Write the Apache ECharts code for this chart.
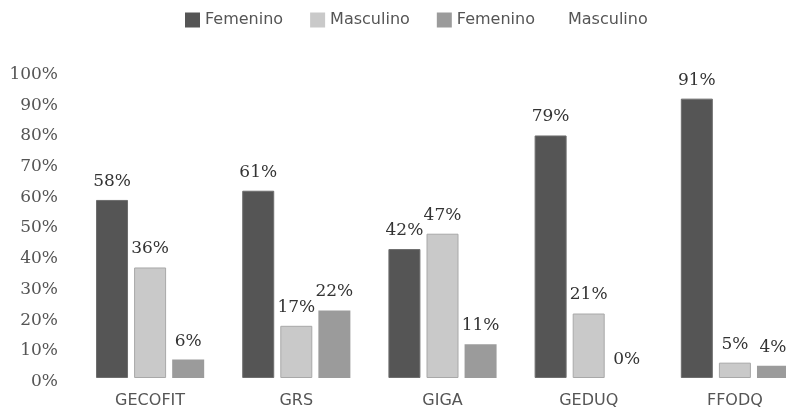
<!DOCTYPE html>
<html><head><meta charset="utf-8">
<script src="https://cdn.jsdelivr.net/npm/echarts@6/dist/echarts.min.js"></script>
<style>html,body{margin:0;padding:0;background:#fff}#c{width:786px;height:412px}</style>
</head><body><div id="c"></div>
<script>
var categories = ['GECOFIT', 'GRS', 'GIGA', 'GEDUQ', 'FFODQ'];
var femenino1 = [58, 61, 42, 79, 91];
var masculino1 = [36, 17, 47, 21, 5];
var femenino2 = [6, 22, 11, 0, 4];
var masculino2 = [];
var yTicks = [0, 10, 20, 30, 40, 50, 60, 70, 80, 90, 100];

var chart = echarts.init(document.getElementById('c'));
var lbl = {show: true, position: 'top', distance: 10, formatter: '{c}%', fontFamily: 'DejaVu Serif', fontSize: 17, color: '#333'};
function bar(name, data, color, border, bw) {
  return {type: 'bar', name: name, data: data, barWidth: 32, barGap: '19%',
    itemStyle: {color: color, borderColor: border, borderWidth: bw}, label: lbl};
}
var legendText = {fontFamily: 'DejaVu Sans', fontSize: 16, color: '#555'};
chart.setOption({
  animation: false,
  legend: [
    {top: 7, left: 180, itemWidth: 15, itemHeight: 15, itemGap: 27, icon: 'rect',
      itemStyle: {borderWidth: 0}, textStyle: legendText,
      formatter: function (n) { return n.trim(); },
      data: ['Femenino', 'Masculino', 'Femenino ']},
    {top: 7, left: 558, itemWidth: 0, itemHeight: 15, icon: 'rect',
      itemStyle: {borderWidth: 0}, textStyle: legendText,
      formatter: function (n) { return n.trim(); },
      data: ['Masculino ']}
  ],
  grid: {left: 77, right: -22, top: 71, bottom: 34, outerBoundsMode: 'none'},
  xAxis: {type: 'category', data: categories, axisLine: {show: false}, axisTick: {show: false},
    axisLabel: {margin: 15, fontFamily: 'DejaVu Sans', fontSize: 16, color: '#555'}},
  yAxis: {type: 'value', min: yTicks[0], max: yTicks[yTicks.length - 1], interval: 10, splitLine: {show: false},
    axisLabel: {formatter: function (v) { return '{a|' + v + '%}'; }, margin: 19,
      rich: {a: {fontFamily: 'DejaVu Serif', fontSize: 17, color: '#555', padding: [7, 0, 0, 0]}}}},
  series: [
    bar('Femenino', femenino1, '#555555', '#6e6e6e', 1),
    bar('Masculino', masculino1, '#c9c9c9', '#a8a8a8', 1),
    bar('Femenino ', femenino2, '#9b9b9b', '#8a8a8a', 0),
    {type: 'line', name: 'Masculino ', data: masculino2, itemStyle: {color: '#ffffff'}, lineStyle: {color: '#ffffff'}}
  ]
});
</script></body></html>
